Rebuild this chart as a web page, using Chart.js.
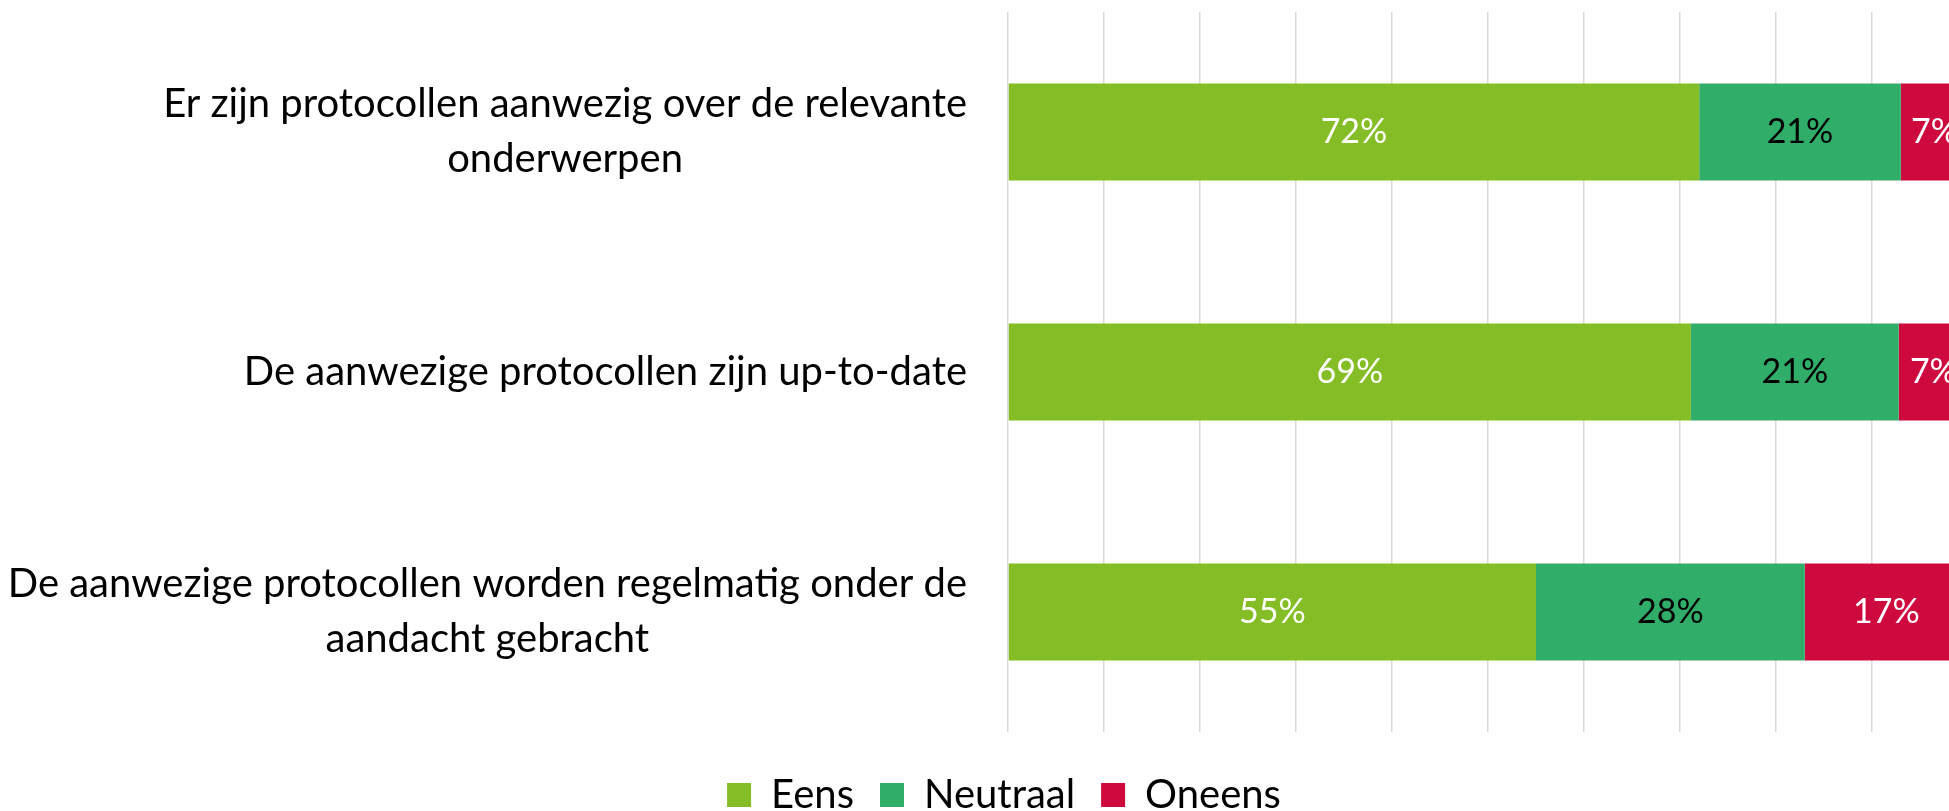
<!DOCTYPE html>
<html>
<head>
<meta charset="utf-8">
<script src="https://cdn.jsdelivr.net/npm/chart.js@4.4.1/dist/chart.umd.min.js"></script>
<style>
html, body { margin: 0; padding: 0; background: #fff; overflow: hidden; }
#wrap { position: relative; width: 2008px; height: 825px; }
</style>
</head>
<body>
<div id="wrap"><canvas id="chart"></canvas></div>
<script>
// Data
const categories = [
    ['Er zijn protocollen aanwezig over de relevante', 'onderwerpen'],
    ['De aanwezige protocollen zijn up-to-date'],
    ['De aanwezige protocollen worden regelmatig onder de', 'aandacht gebracht']
];
const seriesNames = ['Eens', 'Neutraal', 'Oneens'];
const eens = [72, 69, 55];
const neutraal = [21, 21, 28];
const oneens = [7, 7, 17];

const FONT = 'Lato';
const LABEL_SIZE = 40;
const VALUE_SIZE = 34;
const LINE_H = 55;

// 100% stacked: every row is scaled to its own total
const totals = categories.map((_, i) => eens[i] + neutraal[i] + oneens[i]);
const share = arr => arr.map((v, i) => v / totals[i] * 100);

// Value labels inside the bars
const barLabels = {
    id: 'barLabels',
    afterDatasetsDraw(chart) {
        const ctx = chart.ctx;
        ctx.save();
        ctx.font = `${VALUE_SIZE}px ${FONT}`;
        ctx.textAlign = 'center';
        ctx.textBaseline = 'middle';
        chart.data.datasets.forEach((ds, i) => {
            chart.getDatasetMeta(i).data.forEach((bar, j) => {
                const p = bar.getCenterPoint();
                ctx.fillStyle = ds.labelColor;
                ctx.fillText(ds.rawValues[j] + '%', p.x, p.y);
            });
        });
        ctx.restore();
    }
};

// Category labels: block right aligned, lines centred in the block
const categoryLabels = {
    id: 'categoryLabels',
    afterDraw(chart) {
        const ctx = chart.ctx;
        const yScale = chart.scales.y;
        const right = chart.chartArea.left - 41;
        ctx.save();
        ctx.font = `${LABEL_SIZE}px ${FONT}`;
        ctx.fillStyle = '#000';
        ctx.textAlign = 'center';
        ctx.textBaseline = 'middle';
        categories.forEach((lines, i) => {
            const w = Math.max(...lines.map(l => ctx.measureText(l).width));
            const cx = right - w / 2;
            const cy = yScale.getPixelForValue(i);
            lines.forEach((l, k) => {
                ctx.fillText(l, cx, cy + (k - (lines.length - 1) / 2) * LINE_H);
            });
        });
        ctx.restore();
    }
};

const ctx = document.getElementById('chart').getContext('2d');
new Chart(ctx, {
    type: 'bar',
    data: {
        labels: categories.map(c => c.join(' ')),
        datasets: [{
            label: seriesNames[0],
            data: share(eens),
            rawValues: eens,
            backgroundColor: '#84BD25',
            labelColor: '#fff'
        }, {
            label: seriesNames[1],
            data: share(neutraal),
            rawValues: neutraal,
            backgroundColor: '#2FAD69',
            labelColor: '#000'
        }, {
            label: seriesNames[2],
            data: share(oneens),
            rawValues: oneens,
            backgroundColor: '#CE093E',
            labelColor: '#fff'
        }]
    },
    options: {
        indexAxis: 'y',
        responsive: true,
        maintainAspectRatio: false,
        animation: false,
        datasets: {
            bar: {
                categoryPercentage: 0.45,
                barPercentage: 0.9
            }
        },
        layout: {
            padding: { top: 12, left: 0, right: 0, bottom: 0 }
        },
        scales: {
            x: {
                type: 'linear',
                stacked: true,
                min: 0,
                max: 100,
                ticks: { display: false, stepSize: 10 },
                grid: { color: '#d9d9d9', lineWidth: 1.5, drawTicks: false },
                border: { display: false },
                afterFit(scale) { scale.height = 17; }
            },
            y: {
                type: 'category',
                stacked: true,
                ticks: { display: false },
                grid: { display: false },
                border: { display: false },
                afterFit(scale) { scale.width = 1008; }
            },
            yRight: {
                type: 'category',
                axis: 'y',
                position: 'right',
                ticks: { display: false },
                grid: { display: false },
                border: { display: false },
                afterFit(scale) { scale.width = 40; }
            }
        },
        plugins: {
            legend: {
                position: 'bottom',
                labels: {
                    boxWidth: 24,
                    boxHeight: 24,
                    padding: 26,
                    color: '#000',
                    font: { family: FONT, size: LABEL_SIZE }
                }
            },
            tooltip: { enabled: false }
        }
    },
    plugins: [barLabels, categoryLabels]
});
</script>
</body>
</html>
